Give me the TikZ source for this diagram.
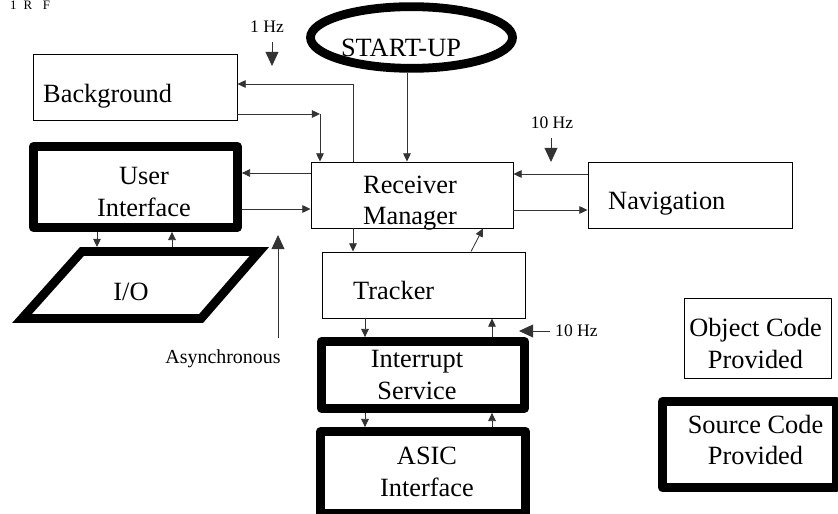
\documentclass[tikz,border=0pt]{standalone}
\usepackage{fontspec}
\setmainfont{Liberation Serif}
\usetikzlibrary{arrows.meta,shapes.geometric}

\begin{document}
\begin{tikzpicture}[
    x=0.03cm, y=-0.03cm,
    box/.style={rectangle, draw, line width=0.8pt, inner sep=0pt},
    srcbox/.style={rectangle, draw, line width=7.5pt, line join=round, inner sep=0pt},
    txt/.style={font=\fontsize{22.5}{27}\selectfont, align=center, inner sep=0pt},
    rate/.style={font=\fontsize{15}{18}\selectfont, inner sep=0pt},
    arrow/.style={-{Triangle[length=7pt,width=6.5pt]}, line width=0.7pt, black!80},
    tick/.style={-{Triangle[length=12pt,width=11pt]}, line width=0.7pt, black!80}
  ]
  \useasboundingbox (0,0) rectangle (838,514);
  \clip (0,0) rectangle (838,514);

  \node[font=\fontsize{11}{13}\selectfont, inner sep=0pt, anchor=base west] (rf) at (10,10) {1\hspace{6pt}R\hspace{9pt}F};

  % blocks
  \node[box, minimum width=6.12cm, minimum height=1.98cm] (bg) at (135,87) {};
  \node[ellipse, draw, line width=7.5pt, inner sep=0pt, minimum width=6.06cm, minimum height=1.85cm] (startup) at (411.5,37.5) {};
  \node[box, minimum width=6.06cm, minimum height=1.98cm] (rm) at (412,195) {};
  \node[srcbox, minimum width=6.12cm, minimum height=2.43cm] (ui) at (135.5,187) {};
  \node[box, minimum width=6.12cm, minimum height=1.98cm] (nav) at (690,195) {};
  \node[box, minimum width=6.09cm, minimum height=1.98cm] (trk) at (423.5,285) {};
  \node[srcbox, minimum width=6.09cm, minimum height=2.01cm] (isr) at (423,375) {};
  \node[srcbox, minimum width=6.15cm, minimum height=2.46cm] (asic) at (423,472.5) {};
  \node[box, minimum width=4.41cm, minimum height=2.4cm] (obj) at (757.5,338) {};
  \node[srcbox, minimum width=5.22cm, minimum height=2.58cm] (src) at (749.5,444.5) {};

  % I/O parallelogram
  \draw[line width=7.5pt] (82,251.4) -- (259.4,251.4) -- (201,318.6) -- (21.9,318.6) -- cycle;
  \coordinate (iotop) at (0,247);

  % block texts
  \node[txt, anchor=base west] (bgtxt) at (43,103) {Background};
  \node[txt, anchor=base] (startuptxt) at (401,57) {START-UP};
  \node[txt] (rmtxt) at (410,203) {Receiver\\Manager};
  \node[txt] (uitxt) at (144,192) {User\\Interface};
  \node[txt, anchor=base] (io) at (131,301) {I/O};
  \node[txt, anchor=base west] (navtxt) at (608,210) {Navigation};
  \node[txt, anchor=base west] (trktxt) at (353,300) {Tracker};
  \node[txt] (isrtxt) at (417,375) {Interrupt\\Service};
  \node[txt] (asictxt) at (427,472) {ASIC\\Interface};
  \node[txt] (objtxt) at (755.5,343.5) {Object Code\\Provided};
  \node[txt] (srctxt) at (755.5,440) {Source Code\\Provided};

  % rates
  \node[rate, anchor=base] (hz1) at (267,33) {1 Hz};
  \node[rate, anchor=base] (hz10nav) at (552,129) {10 Hz};
  \node[rate, anchor=base west] (hz10isr) at (555,337) {10 Hz};
  \node[font=\fontsize{17}{20}\selectfont, inner sep=0pt, anchor=base] (async) at (223,363) {Asynchronous};
  \coordinate (hz1tip) at (272,66);
  \coordinate (navtip) at (551,162);
  \coordinate (isrtip) at (519,331);
  \coordinate (asynctip) at (278,235);
  \draw[tick, shorten <=7.5pt] (hz1.south -| hz1tip) -- (hz1tip);
  \draw[tick, shorten <=7.5pt] (hz10nav.south -| navtip) -- (navtip);
  \draw[tick, shorten <=4pt] (isrtip -| hz10isr.west) -- (isrtip);
  \draw[tick, shorten <=9pt] (async.north -| asynctip) -- (asynctip);

  % background and start-up
  \coordinate (bgturn) at (320,114);
  \draw[arrow] (rm.north -| 353,0) |- (bg.east |- 0,84);
  \draw[arrow] (bg.east |- bgturn) -- (bgturn);
  \draw[arrow] (bgturn) -- (rm.north -| bgturn);
  \draw[arrow] (startup.south -| 407,0) -- (rm.north -| 407,0);

  % user side
  \draw[arrow] (rm.west |- 0,173) -- (ui.east |- 0,173);
  \draw[arrow] (ui.east |- 0,209) -- (rm.west |- 0,209);
  \draw[arrow] (ui.south -| 97,0) -- (iotop -| 97,0);
  \draw[arrow] (iotop -| 172,0) -- (ui.south -| 172,0);

  % navigation
  \draw[arrow] (nav.west |- 0,174) -- (rm.east |- 0,174);
  \draw[arrow] (rm.east |- 0,210) -- (nav.west |- 0,210);

  % tracker chain
  \draw[arrow] (rm.south -| 353,0) -- (trk.north -| 353,0);
  \draw[arrow] (trk.north -| 471,0) -- (rm.south -| 483,0);
  \draw[arrow] (trk.south -| 365,0) -- (isr.north -| 365,0);
  \draw[arrow] (isr.north -| 492,0) -- (trk.south -| 492,0);
  \draw[arrow] (isr.south -| 365,0) -- (asic.north -| 365,0);
  \draw[arrow] (asic.north -| 492,0) -- (isr.south -| 492,0);
\end{tikzpicture}
\end{document}
